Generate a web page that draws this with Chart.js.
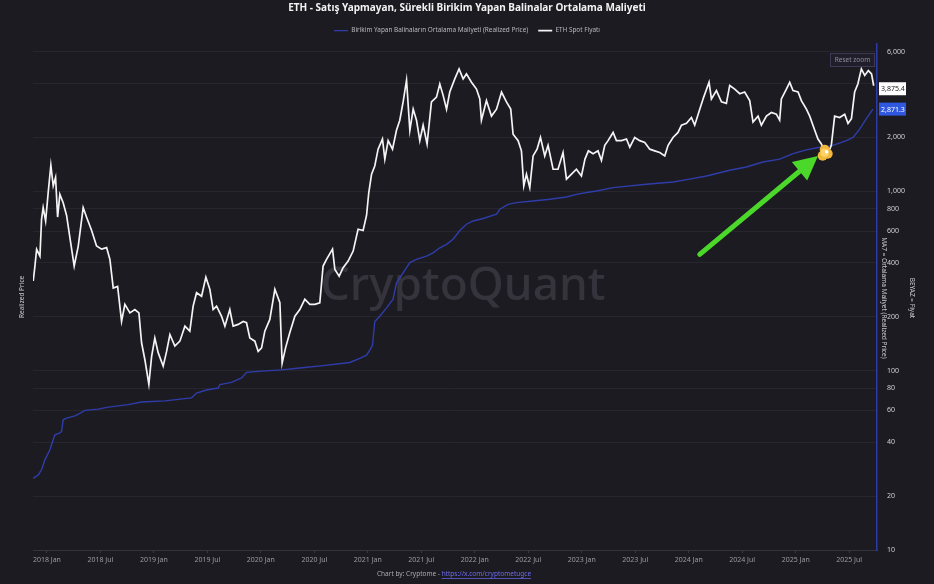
<!DOCTYPE html>
<html>
<head>
<meta charset="utf-8">
<script src="https://cdn.jsdelivr.net/npm/chart.js@4"></script>
<style>
  html, body { margin: 0; padding: 0; background: #1c1b22; }
  canvas { display: block; }
</style>
</head>
<body>
<canvas id="c" width="934" height="584"></canvas>
<script>
// ---------- DATA (time as decimal year, values in USD) ----------
const titleText = 'ETH - Satış Yapmayan, Sürekli Birikim Yapan Balinalar Ortalama Maliyeti';
const realizedLabel = 'Birikim Yapan Balinaların Ortalama Maliyeti (Realized Price)';
const priceLabel = 'ETH Spot Fiyatı';

const xTickValues = [2018, 2018.5, 2019, 2019.5, 2020, 2020.5, 2021, 2021.5, 2022, 2022.5, 2023, 2023.5, 2024, 2024.5, 2025, 2025.5];
const xTickLabels = ['2018 Jan', '2018 Jul', '2019 Jan', '2019 Jul', '2020 Jan', '2020 Jul', '2021 Jan', '2021 Jul', '2022 Jan', '2022 Jul', '2023 Jan', '2023 Jul', '2024 Jan', '2024 Jul', '2025 Jan', '2025 Jul'];
const yTickValues = [10, 20, 40, 60, 80, 100, 200, 400, 600, 800, 1000, 2000, 4000, 6000];

const priceT = [2017.872, 2017.888, 2017.904, 2017.935, 2017.950, 2017.965, 2017.988, 2018.012, 2018.037, 2018.059, 2018.081, 2018.100, 2018.121, 2018.152, 2018.184, 2018.215, 2018.255, 2018.293, 2018.339, 2018.371, 2018.418, 2018.464, 2018.511, 2018.558, 2018.589, 2018.620, 2018.661, 2018.698, 2018.729, 2018.776, 2018.822, 2018.860, 2018.885, 2018.916, 2018.953, 2018.979, 2019.009, 2019.040, 2019.087, 2019.119, 2019.150, 2019.196, 2019.243, 2019.290, 2019.336, 2019.367, 2019.399, 2019.446, 2019.486, 2019.523, 2019.554, 2019.586, 2019.633, 2019.664, 2019.710, 2019.741, 2019.788, 2019.835, 2019.866, 2019.897, 2019.944, 2019.975, 2020.007, 2020.037, 2020.084, 2020.131, 2020.178, 2020.199, 2020.231, 2020.271, 2020.318, 2020.364, 2020.411, 2020.458, 2020.505, 2020.551, 2020.582, 2020.614, 2020.670, 2020.692, 2020.732, 2020.769, 2020.816, 2020.863, 2020.909, 2020.956, 2020.988, 2021.009, 2021.035, 2021.065, 2021.096, 2021.137, 2021.159, 2021.190, 2021.231, 2021.268, 2021.299, 2021.330, 2021.362, 2021.393, 2021.424, 2021.455, 2021.486, 2021.517, 2021.554, 2021.595, 2021.642, 2021.673, 2021.704, 2021.736, 2021.766, 2021.813, 2021.853, 2021.891, 2021.922, 2021.969, 2022.016, 2022.047, 2022.062, 2022.109, 2022.156, 2022.203, 2022.250, 2022.296, 2022.336, 2022.358, 2022.405, 2022.436, 2022.458, 2022.483, 2022.514, 2022.545, 2022.582, 2022.614, 2022.654, 2022.685, 2022.732, 2022.778, 2022.825, 2022.857, 2022.904, 2022.950, 2022.997, 2023.030, 2023.062, 2023.106, 2023.152, 2023.184, 2023.215, 2023.246, 2023.293, 2023.324, 2023.371, 2023.418, 2023.449, 2023.495, 2023.542, 2023.589, 2023.636, 2023.682, 2023.729, 2023.776, 2023.807, 2023.853, 2023.900, 2023.932, 2023.979, 2024.025, 2024.056, 2024.103, 2024.140, 2024.190, 2024.212, 2024.259, 2024.306, 2024.352, 2024.383, 2024.430, 2024.477, 2024.523, 2024.570, 2024.601, 2024.648, 2024.679, 2024.726, 2024.773, 2024.819, 2024.850, 2024.866, 2024.913, 2024.944, 2024.975, 2025.022, 2025.053, 2025.100, 2025.131, 2025.178, 2025.208, 2025.240, 2025.271, 2025.302, 2025.333, 2025.364, 2025.411, 2025.458, 2025.489, 2025.521, 2025.551, 2025.581, 2025.614, 2025.645, 2025.679, 2025.709, 2025.729];
const priceV = [316, 383, 475, 435, 698, 811, 683, 984, 1396, 1072, 1194, 718, 961, 864, 733, 551, 383, 495, 811, 717, 604, 496, 476, 485, 417, 289, 295, 188, 234, 210, 219, 210, 143, 115, 84, 120, 152, 126, 106, 128, 159, 137, 146, 177, 166, 229, 272, 260, 332, 284, 219, 229, 201, 177, 219, 177, 181, 188, 185, 152, 146, 128, 134, 166, 193, 284, 239, 110, 134, 163, 201, 219, 250, 234, 234, 239, 383, 417, 476, 366, 336, 375, 408, 464, 614, 604, 733, 984, 1245, 1383, 1717, 1955, 1511, 1915, 1717, 2188, 2490, 3150, 4160, 2188, 2870, 2490, 1915, 2336, 1834, 3150, 3350, 3960, 3425, 2870, 3575, 4230, 4810, 4230, 4510, 4050, 3715, 3270, 2490, 3200, 2625, 2870, 3575, 3150, 2870, 2080, 1915, 1680, 1072, 1245, 1048, 1574, 1717, 1996, 1574, 1803, 1327, 1327, 1645, 1168, 1245, 1327, 1216, 1511, 1680, 1620, 1680, 1485, 1803, 1915, 2128, 1915, 1915, 1955, 1760, 1996, 1915, 1870, 1717, 1680, 1645, 1574, 1803, 1996, 2128, 2336, 2390, 2577, 2336, 2870, 3350, 4050, 3270, 3640, 3150, 3090, 3890, 3715, 3500, 3575, 3200, 2430, 2625, 2336, 2625, 2750, 2690, 2490, 3270, 3715, 4050, 3640, 3575, 3200, 2870, 2625, 2188, 1955, 1834, 1680, 1620, 1803, 2625, 2577, 2690, 2390, 2540, 3575, 3960, 4810, 4420, 4710, 4510, 3875.4];

const realizedT = [2017.872, 2017.919, 2017.950, 2017.981, 2018.028, 2018.059, 2018.075, 2018.121, 2018.137, 2018.152, 2018.184, 2018.262, 2018.308, 2018.355, 2018.479, 2018.573, 2018.760, 2018.885, 2019.103, 2019.352, 2019.399, 2019.493, 2019.601, 2019.617, 2019.726, 2019.820, 2019.866, 2019.975, 2020.193, 2020.364, 2020.582, 2020.832, 2020.925, 2020.988, 2021.019, 2021.044, 2021.065, 2021.112, 2021.175, 2021.236, 2021.268, 2021.330, 2021.393, 2021.455, 2021.549, 2021.610, 2021.673, 2021.736, 2021.797, 2021.860, 2021.922, 2021.984, 2022.078, 2022.203, 2022.234, 2022.311, 2022.390, 2022.545, 2022.701, 2022.857, 2022.950, 2023.075, 2023.137, 2023.293, 2023.605, 2023.853, 2024.009, 2024.166, 2024.383, 2024.539, 2024.694, 2024.850, 2024.975, 2025.100, 2025.224, 2025.349, 2025.474, 2025.536, 2025.598, 2025.661, 2025.722];
const realizedV = [25.1, 26.2, 28, 31.8, 36.2, 41.2, 43.9, 45, 45.8, 53.2, 54.4, 56, 57.7, 60, 61, 62.6, 64.6, 66.8, 67.8, 70.5, 75, 78, 80, 83.5, 86, 91, 97.8, 99, 101, 103.5, 106.7, 111, 117, 122, 130, 139, 188, 201, 224, 250, 309, 351, 400, 417, 435, 454, 484, 506, 540, 604, 655, 683, 705, 745, 794, 846, 864, 882, 902, 929, 961, 990, 1004, 1048, 1094, 1127, 1168, 1216, 1309, 1366, 1456, 1511, 1620, 1700, 1760, 1803, 1915, 1996, 2220, 2540, 2871.3];

// annotation drawn on the chart by the author (data units)
const arrowFrom = { x: 2024.103, y: 445 };
const arrowTo = { x: 2025.208, y: 1574 };
const markerAt = { x: 2025.271, y: 1640 };

// ---------- helpers ----------
const FONT = '"Noto Sans", "Open Sans", sans-serif';
const fmt = v => v.toLocaleString('en-US', { maximumFractionDigits: 1 });
const toXY = (ts, vs) => ts.map((t, i) => ({ x: t, y: vs[i] }));
const BLUE = '#2f3dab';

const decorPlugin = {
  id: 'decor',
  beforeDatasetsDraw(chart) {
    const { ctx, chartArea: a } = chart;
    ctx.save();
    ctx.font = '500 46px ' + FONT;
    ctx.fillStyle = '#35343d';
    ctx.textAlign = 'center';
    ctx.textBaseline = 'middle';
    ctx.fillText('CryptoQuant', (a.left + a.right) / 2 + 8, (a.top + a.bottom) / 2 - 10);
    ctx.restore();
  },
  afterDatasetsDraw(chart) {
    const { ctx, scales } = chart;
    const xs = scales.x, ys = scales.y;
    ctx.save();
    // green arrow
    const x1 = xs.getPixelForValue(arrowFrom.x), y1 = ys.getPixelForValue(arrowFrom.y);
    const x2 = xs.getPixelForValue(arrowTo.x), y2 = ys.getPixelForValue(arrowTo.y);
    const ang = Math.atan2(y2 - y1, x2 - x1);
    const headLen = 24, headW = 12;
    const bx = x2 - headLen * Math.cos(ang), by = y2 - headLen * Math.sin(ang);
    ctx.strokeStyle = '#4bd82a';
    ctx.fillStyle = '#4bd82a';
    ctx.lineWidth = 5;
    ctx.lineCap = 'round';
    ctx.beginPath(); ctx.moveTo(x1, y1); ctx.lineTo(bx, by); ctx.stroke();
    ctx.beginPath();
    ctx.moveTo(x2, y2);
    ctx.lineTo(bx + headW * Math.sin(ang), by - headW * Math.cos(ang));
    ctx.lineTo(bx - headW * Math.sin(ang), by + headW * Math.cos(ang));
    ctx.closePath(); ctx.fill();
    // yellow marker
    const mx = xs.getPixelForValue(markerAt.x), my = ys.getPixelForValue(markerAt.y);
    ctx.fillStyle = '#f2b93b';
    [[0, -3, 5], [-2, 3, 5], [3, 1, 5]].forEach(([dx, dy, r]) => { ctx.beginPath(); ctx.arc(mx + dx, my + dy, r, 0, Math.PI * 2); ctx.fill(); });
    ctx.fillStyle = '#ffd36a';
    ctx.beginPath(); ctx.arc(mx, my, 4, 0, Math.PI * 2); ctx.fill();
    ctx.fillStyle = '#ffffff';
    ctx.beginPath(); ctx.arc(mx + 2, my - 1, 1.8, 0, Math.PI * 2); ctx.fill();
    ctx.restore();
  },
  afterDraw(chart) {
    const { ctx, chartArea: a, scales } = chart;
    const ys = scales.y;
    ctx.save();
    // last value boxes
    const lastP = priceV[priceV.length - 1], lastR = realizedV[realizedV.length - 1];
    const boxes = [
      { v: lastP, bg: '#ffffff', fg: '#222222' },
      { v: lastR, bg: '#2f57e0', fg: '#ffffff' }
    ];
    ctx.font = '7px ' + FONT;
    ctx.textBaseline = 'middle';
    ctx.textAlign = 'left';
    boxes.forEach((b, i) => {
      const yy = ys.getPixelForValue(b.v) + (i === 0 ? 3 : 0);
      ctx.fillStyle = b.bg;
      ctx.fillRect(a.right + 2, yy - 6.5, 27, 13);
      ctx.fillStyle = b.fg;
      ctx.fillText(b.v.toLocaleString('en-US', { minimumFractionDigits: 1, maximumFractionDigits: 1 }), a.right + 4, yy + 0.5);
    });
    // right side titles
    const cy = (a.top + a.bottom) / 2 + 1;
    ctx.fillStyle = '#c8c8cc';
    ctx.textAlign = 'center';
    ctx.font = '6.5px ' + FONT;
    [['MA7 = Ortalama Maliyet (Realized Price)', a.right + 7], ['BEYAZ = Fiyat', a.right + 35]].forEach(([t, x]) => {
      ctx.save(); ctx.translate(x, cy); ctx.rotate(Math.PI / 2); ctx.fillText(t, 0, 0); ctx.restore();
    });
    // reset zoom button
    ctx.strokeStyle = '#3b3a52';
    ctx.fillStyle = '#1f1e2a';
    ctx.lineWidth = 1;
    ctx.fillRect(a.right - 47, 53, 45, 14);
    ctx.strokeRect(a.right - 46.5, 53.5, 44, 13);
    ctx.fillStyle = '#8e8e9a';
    ctx.font = '6.5px ' + FONT;
    ctx.fillText('Reset zoom', a.right - 24.5, 60.5);
    // credit
    ctx.font = '6.5px ' + FONT;
    const p1 = 'Chart by: Cryptome - ', p2 = 'https://x.com/cryptometugce';
    const w1 = ctx.measureText(p1).width, w2 = ctx.measureText(p2).width;
    const sx = 454 - (w1 + w2) / 2;
    const cyb = 574;
    ctx.textAlign = 'left';
    ctx.fillStyle = '#a9a9b2';
    ctx.fillText(p1, sx, cyb);
    ctx.fillStyle = '#6f6cf0';
    ctx.fillText(p2, sx + w1, cyb);
    ctx.fillRect(sx + w1, cyb + 4, w2, 0.7);
    ctx.restore();
  }
};

new Chart(document.getElementById('c'), {
  type: 'line',
  data: {
    datasets: [
      { label: realizedLabel, data: toXY(realizedT, realizedV), borderColor: BLUE, backgroundColor: BLUE, borderWidth: 1.4, pointRadius: 0, tension: 0, order: 1, yAxisID: 'y' },
      { label: priceLabel, data: toXY(priceT, priceV), borderColor: '#f4f4f4', backgroundColor: '#f4f4f4', borderWidth: 1.7, pointRadius: 0, tension: 0, order: 0, yAxisID: 'y' }
    ]
  },
  options: {
    responsive: false,
    animation: false,
    events: [],
    layout: { padding: { top: 0, left: 0, right: 0, bottom: 0 } },
    plugins: {
      title: { display: true, text: titleText, color: '#f2f2f2', font: { family: FONT, size: 10, weight: 'bold' }, padding: { top: 2, bottom: 3.4 } },
      legend: {
        display: true,
        labels: { color: '#b8b8c0', font: { family: FONT, size: 6.4 }, usePointStyle: true, pointStyle: 'line', pointStyleWidth: 14, padding: 10,
          sort: (a, b) => a.datasetIndex - b.datasetIndex }
      },
      tooltip: { enabled: false }
    },
    scales: {
      x: {
        type: 'linear', min: 2017.87, max: 2025.76,
        afterBuildTicks: s => { s.ticks = xTickValues.map(v => ({ value: v })); },
        afterFit: s => { s.height = 34; },
        ticks: { color: '#9a9aa4', font: { family: FONT, size: 7 }, maxRotation: 0, autoSkip: false, padding: 3,
          callback: (v) => { const i = xTickValues.indexOf(v); return i >= 0 ? xTickLabels[i] : ''; } },
        grid: { drawOnChartArea: false, drawTicks: true, tickLength: 3, color: '#3a3a44' },
        border: { color: '#34343c', width: 1 }
      },
      y: {
        type: 'logarithmic', position: 'right', min: 10, max: 6640,
        afterBuildTicks: s => { s.ticks = yTickValues.map(v => ({ value: v })); },
        afterFit: s => { s.width = 57; },
        ticks: { color: '#cfcfd4', font: { family: FONT, size: 7 }, padding: 10, callback: v => (v === 4000 ? '' : fmt(v)) },
        grid: { color: '#27262f', drawTicks: false },
        border: { color: '#2c3ba8', width: 1.5 }
      },
      yl: {
        type: 'logarithmic', position: 'left', min: 10, max: 6640,
        afterFit: s => { s.width = 33; },
        ticks: { display: false },
        grid: { display: false, drawTicks: false },
        border: { display: false },
        title: { display: true, text: 'Realized Price', color: '#c8c8cc', font: { family: FONT, size: 6.5 }, padding: { top: 18, bottom: 0 } }
      }
    }
  },
  plugins: [decorPlugin]
});
</script>
</body>
</html>
